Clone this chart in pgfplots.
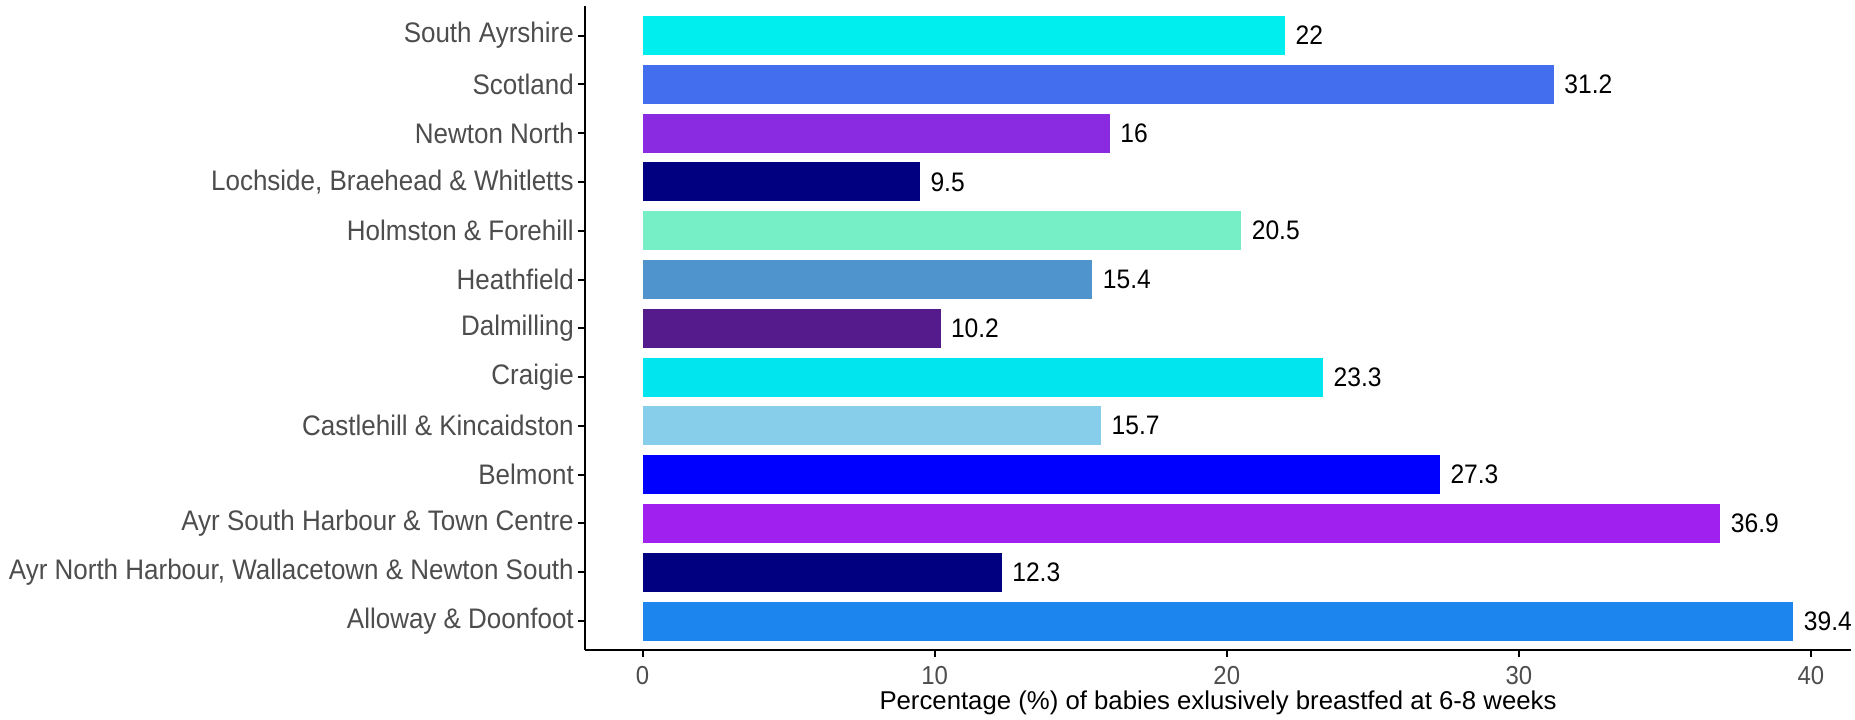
\documentclass[border=0pt]{standalone}
\usepackage{fontspec}
\setmainfont{Liberation Sans}
\newfontfamily\cond[FakeStretch=0.92]{Liberation Sans}
\usepackage{pgfplots}
\pgfplotsset{compat=1.18}
\definecolor{gray30}{HTML}{4D4D4D}
\definecolor{cAll}{HTML}{1C86EE}
\definecolor{cAyrN}{HTML}{000080}
\definecolor{cAyrS}{HTML}{A020F0}
\definecolor{cBel}{HTML}{0000FF}
\definecolor{cCas}{HTML}{87CEEB}
\definecolor{cCra}{HTML}{00E5EE}
\definecolor{cDal}{HTML}{551A8B}
\definecolor{cHea}{HTML}{4F94CD}
\definecolor{cHol}{HTML}{76EEC6}
\definecolor{cLoc}{HTML}{000080}
\definecolor{cNew}{HTML}{8A2BE2}
\definecolor{cSco}{HTML}{436EEE}
\definecolor{cSou}{HTML}{00EEEE}
\begin{document}
\begin{tikzpicture}
\path[use as bounding box] (0,0) rectangle (742pt,288pt);
\begin{axis}[
  at={(234pt,27.88pt)}, anchor=south west,
  width=506.4pt, height=257.56pt, scale only axis,
  xbar, bar width=15.6pt,
  xmin=-1.97, xmax=41.37, ymin=0.4, ymax=13.6,
  axis x line*=bottom, axis y line*=left,
  axis line style={line width=0.8pt, black, -},
  tick align=outside, major tick length=2.8pt,
  tick style={line width=0.8pt, black},
  xtick={0,10,20,30,40},
  ytick={1,...,13},
  yticklabels={Alloway \& Doonfoot, {Ayr North Harbour, Wallacetown \& Newton South}, Ayr South Harbour \& Town Centre, Belmont, Castlehill \& Kincaidston, Craigie, Dalmilling, Heathfield, Holmston \& Forehill, {Lochside, Braehead \& Whitletts}, Newton North, Scotland, South Ayrshire},
  /pgf/number format/assume math mode=true,
  yticklabel style={font=\cond\fontsize{11.3pt}{12pt}\selectfont, text=gray30, inner sep=1.5pt},
  xticklabel style={font=\cond\fontsize{10.4pt}{11pt}\selectfont, text=gray30},
  xlabel={Percentage (\%) of babies exlusively breastfed at 6-8 weeks},
  xlabel style={at={(axis description cs:0.5,0)}, anchor=base, yshift=-23.5pt, font=\fontsize{10.3pt}{12pt}\selectfont, text=black},
  point meta=x,
  nodes near coords,
  every node near coord/.append style={anchor=west, inner sep=0pt, xshift=4pt, font=\cond\fontsize{10.7pt}{12pt}\selectfont, text=black},
  clip=false,
  mybar/.style={fill=#1, draw=none, bar shift=0pt},
]
\addplot[mybar=cAll] coordinates {(39.4,1)};
\addplot[mybar=cAyrN] coordinates {(12.3,2)};
\addplot[mybar=cAyrS] coordinates {(36.9,3)};
\addplot[mybar=cBel] coordinates {(27.3,4)};
\addplot[mybar=cCas] coordinates {(15.7,5)};
\addplot[mybar=cCra] coordinates {(23.3,6)};
\addplot[mybar=cDal] coordinates {(10.2,7)};
\addplot[mybar=cHea] coordinates {(15.4,8)};
\addplot[mybar=cHol] coordinates {(20.5,9)};
\addplot[mybar=cLoc] coordinates {(9.5,10)};
\addplot[mybar=cNew] coordinates {(16,11)};
\addplot[mybar=cSco] coordinates {(31.2,12)};
\addplot[mybar=cSou] coordinates {(22,13)};
\end{axis}
\end{tikzpicture}
\end{document}
